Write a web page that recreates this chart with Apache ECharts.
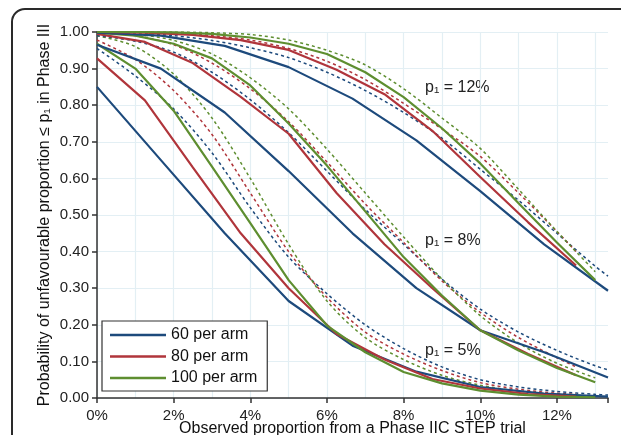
<!DOCTYPE html>
<html>
<head>
<meta charset="utf-8">
<script src="https://cdn.jsdelivr.net/npm/echarts@6/dist/echarts.min.js"></script>
<style>
    html, body { margin: 0; padding: 0; background: #fff; overflow: hidden; }
    #frame {
        position: absolute; left: 11px; top: 8px; width: 700px; height: 500px;
        border: 2px solid #2a2a2a; border-radius: 14px;
    }
    #chart { position: absolute; left: 0; top: 0; width: 621px; height: 435px; }
</style>
</head>
<body>
<div id="frame"></div>
<div id="chart"></div>
<script>
// observed Phase II proportions (%) at which exact results were computed
const x60 = [0, 1.667, 3.333, 5, 6.667, 8.333, 10, 11.667, 13.333];
const x80 = [0, 1.25, 2.5, 3.75, 5, 6.25, 7.5, 8.75, 10, 11.25, 12.5];
const x100 = [0, 1, 2, 3, 4, 5, 6, 7, 8, 9, 10, 11, 12, 13];
// x for the dashed (approximate) curves
const xd60 = [0, 1, 2, 3, 4, 5, 6, 7, 8, 9, 10, 11, 12, 13, 13.333];
const xd80 = [0, 1, 2, 3, 4, 5, 6, 7, 8, 9, 10, 11, 12, 12.5];
const xd100 = [0, 1, 2, 3, 4, 5, 6, 7, 8, 9, 10, 11, 12, 13];

// solid curves
const s5_60 = [0.85, 0.65, 0.45, 0.265, 0.143, 0.072, 0.03, 0.012, 0.004];
const s5_80 = [0.928, 0.813, 0.63, 0.45, 0.30, 0.175, 0.105, 0.052, 0.026, 0.011, 0.004];
const s5_100 = [0.968, 0.90, 0.785, 0.632, 0.478, 0.322, 0.198, 0.125, 0.071, 0.04, 0.02, 0.009, 0.004, 0.002];
const s8_60 = [0.965, 0.90, 0.78, 0.62, 0.45, 0.30, 0.185, 0.125, 0.056];
const s8_80 = [0.995, 0.973, 0.915, 0.823, 0.722, 0.56, 0.42, 0.30, 0.185, 0.12, 0.062];
const s8_100 = [0.998, 0.99, 0.968, 0.928, 0.854, 0.75, 0.635, 0.51, 0.385, 0.28, 0.185, 0.13, 0.082, 0.043];
const s12_60 = [0.998, 0.99, 0.962, 0.904, 0.818, 0.704, 0.565, 0.42, 0.293];
const s12_80 = [1.0, 0.998, 0.992, 0.978, 0.951, 0.897, 0.83, 0.73, 0.604, 0.48, 0.362];
const s12_100 = [1.0, 1.0, 0.999, 0.995, 0.985, 0.968, 0.94, 0.89, 0.822, 0.737, 0.641, 0.532, 0.425, 0.322];

// dashed curves
const d5_60 = [0.955, 0.88, 0.79, 0.67, 0.52, 0.385, 0.285, 0.2, 0.135, 0.085, 0.05, 0.03, 0.018, 0.01, 0.008];
const d5_80 = [0.978, 0.925, 0.84, 0.72, 0.56, 0.40, 0.275, 0.18, 0.12, 0.075, 0.042, 0.024, 0.013, 0.01];
const d5_100 = [0.99, 0.96, 0.885, 0.765, 0.60, 0.42, 0.265, 0.165, 0.105, 0.062, 0.035, 0.019, 0.01, 0.005];
const d8_60 = [0.99, 0.975, 0.945, 0.89, 0.815, 0.725, 0.62, 0.515, 0.42, 0.325, 0.243, 0.18, 0.13, 0.088, 0.077];
const d8_80 = [0.998, 0.99, 0.965, 0.915, 0.845, 0.755, 0.645, 0.53, 0.425, 0.32, 0.234, 0.165, 0.11, 0.085];
const d8_100 = [0.999, 0.994, 0.977, 0.94, 0.875, 0.79, 0.68, 0.56, 0.44, 0.325, 0.225, 0.15, 0.095, 0.055];
const d12_60 = [1.0, 0.998, 0.99, 0.977, 0.957, 0.93, 0.89, 0.84, 0.78, 0.71, 0.625, 0.54, 0.45, 0.36, 0.333];
const d12_80 = [1.0, 1.0, 0.997, 0.99, 0.978, 0.955, 0.92, 0.87, 0.805, 0.735, 0.66, 0.56, 0.455, 0.4];
const d12_100 = [1.0, 1.0, 1.0, 0.998, 0.993, 0.978, 0.95, 0.91, 0.845, 0.765, 0.682, 0.57, 0.455, 0.345];

const armNames = ['60 per arm', '80 per arm', '100 per arm'];
const colorList = ['#1d4a7c', '#b0353b', '#5e8e30'];
const fontFamily = '"Liberation Sans", Arial, sans-serif';

const zip = (xs, ys) => xs.map((x, i) => [x, ys[i]]);

const solidSets = [
    [x60, s5_60, 0], [x80, s5_80, 1], [x100, s5_100, 2],
    [x60, s8_60, 0], [x80, s8_80, 1], [x100, s8_100, 2],
    [x60, s12_60, 0], [x80, s12_80, 1], [x100, s12_100, 2]
];
const dashedSets = [
    [xd60, d5_60, 0], [xd80, d5_80, 1], [xd100, d5_100, 2],
    [xd60, d8_60, 0], [xd80, d8_80, 1], [xd100, d8_100, 2],
    [xd60, d12_60, 0], [xd80, d12_80, 1], [xd100, d12_100, 2]
];

const series = [];
dashedSets.forEach(([xs, ys, k]) => {
    series.push({
        type: 'line',
        name: armNames[k] + ' approx',
        data: zip(xs, ys),
        symbol: 'none',
        smooth: 0.3,
        lineStyle: { color: colorList[k], width: 1.5, type: [3, 3] },
        z: 2
    });
});
solidSets.forEach(([xs, ys, k]) => {
    series.push({
        type: 'line',
        name: armNames[k],
        data: zip(xs, ys),
        symbol: 'none',
        itemStyle: { color: colorList[k] },
        lineStyle: { color: colorList[k], width: 2.2 },
        z: 3
    });
});

const myChart = echarts.init(document.getElementById('chart'));
const option = {
    animation: false,
    textStyle: { fontFamily: fontFamily },
    grid: { left: 97, right: 13, top: 32, bottom: 37, outerBoundsMode: 'none', containLabel: false },
    legend: {
        data: armNames,
        orient: 'vertical',
        left: 102,
        top: 321,
        padding: [6, 10, 5, 8],
        icon: 'rect',
        itemWidth: 56,
        itemHeight: 2.5,
        itemGap: 5.5,
        itemTextGap: 10,
        backgroundColor: '#fff',
        borderColor: '#333',
        borderWidth: 1.2,
        borderRadius: 0,
        textStyle: { fontSize: 16, color: '#111', fontFamily: fontFamily }
    },
    xAxis: [
        {
            type: 'value',
            min: 0,
            max: 13.333,
            interval: 2,
            name: 'Observed proportion from a Phase IIC STEP trial',
            nameLocation: 'middle',
            nameGap: 23,
            nameMoveOverlap: false,
            nameTextStyle: { fontSize: 16, color: '#111' },
            axisLine: { show: true, lineStyle: { color: '#333', width: 1.5 } },
            axisTick: { show: true, length: 5, lineStyle: { color: '#333', width: 1.5 } },
            axisLabel: {
                fontSize: 15,
                color: '#222',
                margin: 10,
                formatter: v => (Math.abs(v - Math.round(v)) < 1e-6 && Math.round(v) % 2 === 0) ? Math.round(v) + '%' : ''
            },
            splitLine: { show: false }
        },
        {
            type: 'value',
            min: 0,
            max: 13.333,
            interval: 1,
            position: 'bottom',
            axisLine: { show: false },
            axisTick: { show: false },
            axisLabel: { show: false },
            splitLine: { show: true, showMaxLine: false, lineStyle: { color: '#e3eff4', width: 1.2 } }
        }
    ],
    yAxis: {
        type: 'value',
        min: 0,
        max: 1,
        interval: 0.1,
        name: 'Probability of unfavourable proportion \u2264 p\u2081 in Phase III',
        nameLocation: 'middle',
        nameGap: 44,
        nameMoveOverlap: false,
        nameTextStyle: { fontSize: 16, color: '#111' },
        axisLine: { show: true, lineStyle: { color: '#333', width: 1.5 } },
        axisTick: { show: true, length: 5, lineStyle: { color: '#333', width: 1.5 } },
        axisLabel: {
            fontSize: 15,
            color: '#222',
            margin: 8,
            formatter: v => v.toFixed(2)
        },
        splitLine: { show: true, lineStyle: { color: '#e3eff4', width: 1.2 } }
    },
    graphic: [
        { type: 'text', left: 425, top: 80, style: { text: 'p\u2081 = 12%', fontSize: 16, fill: '#222', fontFamily: fontFamily } },
        { type: 'text', left: 425, top: 233, style: { text: 'p\u2081 = 8%', fontSize: 16, fill: '#222', fontFamily: fontFamily } },
        { type: 'text', left: 425, top: 343, style: { text: 'p\u2081 = 5%', fontSize: 16, fill: '#222', fontFamily: fontFamily } }
    ],
    series: series
};
myChart.setOption(option);
</script>
</body>
</html>
